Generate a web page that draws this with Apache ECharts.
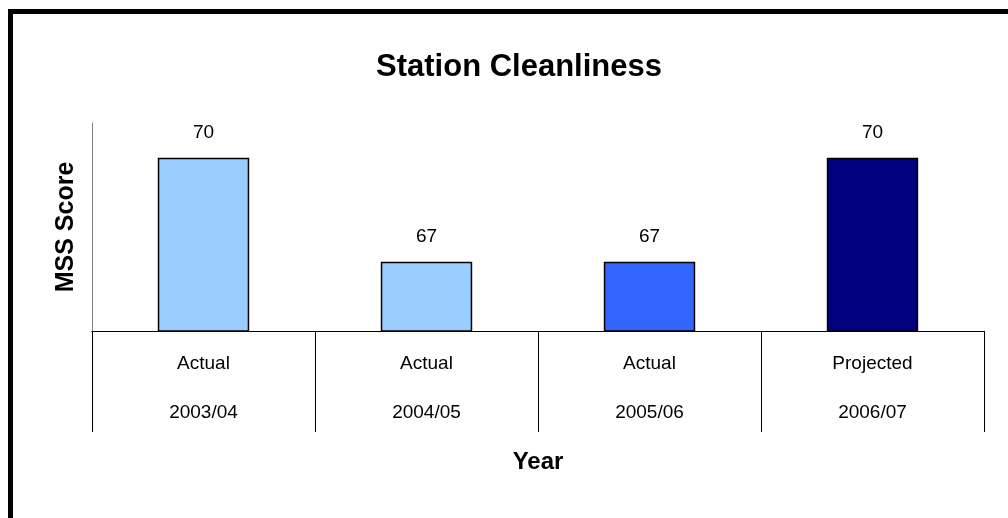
<!DOCTYPE html>
<html>
<head>
<meta charset="utf-8">
<script src="https://cdn.jsdelivr.net/npm/echarts@6/dist/echarts.min.js"></script>
<style>
  html, body { margin: 0; padding: 0; background: #fff; overflow: hidden; }
  #frame { position: absolute; left: 8px; top: 9px; width: 1200px; height: 700px;
           border-left: 5px solid #000; border-top: 5px solid #000; }
  #chart { position: absolute; left: 0; top: 0; width: 1008px; height: 518px; }
</style>
</head>
<body>
<div id="frame"></div>
<div id="chart"></div>
<script>
// data
const years = ['2003/04', '2004/05', '2005/06', '2006/07'];
const status = ['Actual', 'Actual', 'Actual', 'Projected'];
const scores = [70, 67, 67, 70];
const barColors = ['#99CCFF', '#99CCFF', '#3366FF', '#000080'];

const myChart = echarts.init(document.getElementById('chart'));
const font = 'Liberation Sans, Arial, sans-serif';

const option = {
  title: {
    text: 'Station Cleanliness',
    left: 514,
    textAlign: 'center',
    top: 47,
    textStyle: { fontFamily: font, fontSize: 31, fontWeight: 'bold', color: '#000' }
  },
  grid: { left: 92, right: 24, top: 123, bottom: 187 },
  xAxis: {
    type: 'category',
    data: years,
    name: 'Year',
    nameLocation: 'middle',
    nameGap: 119,
    nameTextStyle: { fontFamily: font, fontSize: 24, fontWeight: 'bold', color: '#000' },
    axisLine: { lineStyle: { color: '#000', width: 1 } },
    axisTick: { show: true, interval: 0, length: 101, lineStyle: { color: '#000', width: 1 } },
    axisLabel: {
      interval: 0,
      margin: 8,
      formatter: (v, i) => '{a|' + status[i] + '}\n{a|' + v + '}',
      rich: {
        a: { fontFamily: font, fontSize: 19, color: '#000', lineHeight: 49 }
      }
    }
  },
  yAxis: {
    type: 'value',
    min: 65,
    max: 71,
    name: 'MSS Score',
    nameLocation: 'middle',
    nameGap: 13,
    nameTextStyle: { fontFamily: font, fontSize: 25, fontWeight: 'bold', color: '#000' },
    axisLine: { show: true, lineStyle: { color: '#808080', width: 1 } },
    axisTick: { show: false },
    axisLabel: { show: false },
    splitLine: { show: false }
  },
  series: [{
    type: 'bar',
    data: scores.map((v, i) => ({ value: v, itemStyle: { color: barColors[i] } })),
    barWidth: '41%',
    itemStyle: { borderColor: '#000', borderWidth: 1.5 },
    label: {
      show: true,
      position: 'top',
      distance: 15,
      fontFamily: font,
      fontSize: 19,
      color: '#000'
    }
  }],
  animation: false
};

myChart.setOption(option);
</script>
</body>
</html>
